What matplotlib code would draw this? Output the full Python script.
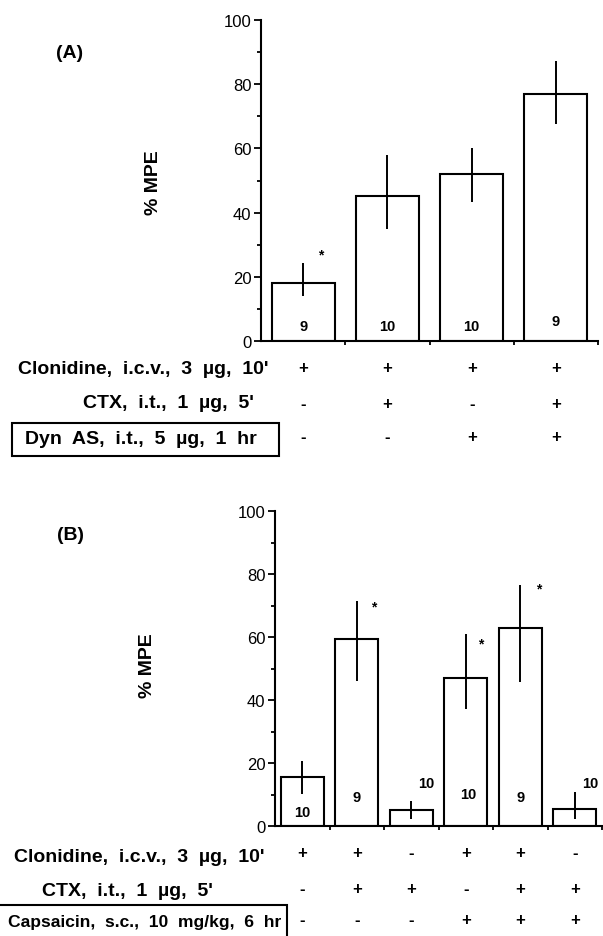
import matplotlib
matplotlib.use("Agg")
import matplotlib.pyplot as plt
from matplotlib.patches import Rectangle
from matplotlib.transforms import blended_transform_factory
from matplotlib.ticker import MultipleLocator

plt.rcParams['font.family'] = ['Liberation Sans', 'DejaVu Sans']

# ---------------- data ----------------
a_means = [18.0, 45.2, 52.1, 76.8]
a_err_low = [4.0, 10.2, 8.8, 9.3]
a_err_up = [6.2, 12.6, 8.1, 10.3]
a_n = ['9', '10', '10', '9']
a_n_y = [4.7, 4.7, 4.7, 6.2]
a_star_bars = [0]
a_star_y = [27]
a_rows = ["Clonidine,  i.c.v.,  3  µg,  10'", "CTX,  i.t.,  1  µg,  5'", "Dyn  AS,  i.t.,  5  µg,  1  hr"]
a_signs = [['+', '+', '+', '+'],
           ['-', '+', '-', '+'],
           ['-', '-', '+', '+']]

b_means = [15.6, 59.4, 5.0, 47.0, 62.8, 5.3]
b_err_low = [5.5, 13.3, 2.7, 9.9, 17.0, 3.0]
b_err_up = [4.9, 12.0, 3.0, 14.0, 13.8, 5.5]
b_n = ['10', '9', '10', '10', '9', '10']
b_n_y = [4.6, 9.2, 13.6, 10.0, 9.2, 13.6]
b_n_dx = [0, 0, 0.28, 0.05, 0, 0.28]
b_star_bars = [1, 3, 4]
b_star_y = [69.7, 58, 75.5]
b_rows = ["Clonidine,  i.c.v.,  3  µg,  10'", "CTX,  i.t.,  1  µg,  5'", "Capsaicin,  s.c.,  10  mg/kg,  6  hr"]
b_signs = [['+', '+', '-', '+', '+', '-'],
           ['-', '+', '+', '-', '+', '+'],
           ['-', '-', '-', '+', '+', '+']]

yticks = [0, 20, 40, 60, 80, 100]

# ---------------- layout ----------------
W, H = 603, 937
fig = plt.figure(figsize=(W / 100, H / 100), dpi=100)


def fx(p):
    return p / W


def fy(p):
    return 1 - p / H


def make_axes(left, right, top, bottom):
    return fig.add_axes([fx(left), fy(bottom), fx(right) - fx(left), fy(top) - fy(bottom)])


LW = 1.5


def panel(ax, means, lo, up, width, nlab, ny, ndx, star_bars, star_y, star_dx):
    x = list(range(len(means)))
    ax.bar(x, means, width=width, color='white', edgecolor='black', linewidth=LW, zorder=2)
    ax.errorbar(x, means, yerr=[lo, up], fmt='none', ecolor='black', elinewidth=1.4,
                capsize=0, zorder=3)
    for i, (t, yv) in enumerate(zip(nlab, ny)):
        ax.text(i + ndx[i], yv, t, ha='center', va='center', fontsize=10.5,
                fontweight='bold', zorder=4, clip_on=False)
    for b, yv, dx in zip(star_bars, star_y, star_dx):
        ax.text(b + dx, yv, '*', ha='center', va='center', fontsize=10,
                fontweight='bold', zorder=4)
    ax.set_xlim(-0.5, len(means) - 0.5)
    ax.set_ylim(0, 100)
    ax.set_yticks(yticks)
    ax.yaxis.set_minor_locator(MultipleLocator(10))
    ax.set_xticks([i + 0.5 for i in range(len(means))])
    ax.set_xticklabels([])
    for s in ['top', 'right']:
        ax.spines[s].set_visible(False)
    for s in ['left', 'bottom']:
        ax.spines[s].set_linewidth(LW)
    ax.tick_params(axis='y', which='major', direction='out', length=5, width=1.3,
                   labelsize=12, pad=2)
    ax.tick_params(axis='y', which='minor', direction='out', length=3, width=1.3)
    ax.tick_params(axis='x', which='major', direction='out', length=3, width=1.3)
    ax.set_facecolor('none')


def sign_rows(ax, signs, rows_y):
    tr = blended_transform_factory(ax.transData, fig.transFigure)
    for row, yp in zip(signs, rows_y):
        for i, s in enumerate(row):
            ax.text(i, fy(yp), s, transform=tr, ha='center', va='center',
                    fontsize=12, fontweight='bold', clip_on=False)


def row_labels(labels, xs_right, ys, sizes):
    for t, xr, yp, fs in zip(labels, xs_right, ys, sizes):
        fig.text(fx(xr), fy(yp), t, ha='right', va='center', fontsize=fs,
                 fontweight='bold')


# ---------- Panel A ----------
axA = make_axes(261, 598, 21, 342)
panel(axA, a_means, a_err_low, a_err_up, 0.75, a_n, a_n_y, [0] * 4,
      a_star_bars, a_star_y, [0.21])
fig.text(fx(70), fy(53), '(A)', ha='center', va='center', fontsize=14, fontweight='bold')
fig.text(fx(153), fy(183), '% MPE', ha='center', va='center', rotation=90,
         fontsize=14, fontweight='bold')
sign_rows(axA, a_signs, [369, 404, 438])
row_labels(a_rows, [268, 254, 257], [370, 403, 440], [14, 14, 14])
fig.add_artist(Rectangle((fx(12), fy(457)), fx(279) - fx(12), fy(424) - fy(457),
                         transform=fig.transFigure, fill=False, edgecolor='black',
                         linewidth=LW))

# ---------- Panel B ----------
axB = make_axes(275, 602, 512, 827)
panel(axB, b_means, b_err_low, b_err_up, 0.78, b_n, b_n_y, b_n_dx,
      b_star_bars, b_star_y, [0.32, 0.28, 0.34])
fig.text(fx(70), fy(535), '(B)', ha='center', va='center', fontsize=14, fontweight='bold')
fig.text(fx(148), fy(666), '% MPE', ha='center', va='center', rotation=90,
         fontsize=14, fontweight='bold')
sign_rows(axB, b_signs, [854, 890, 921])
row_labels(b_rows, [265, 213, 281], [858, 892, 923], [14, 14, 12.6])
fig.add_artist(Rectangle((fx(-5), fy(950)), fx(287) - fx(-5), fy(906) - fy(950),
                         transform=fig.transFigure, fill=False, edgecolor='black',
                         linewidth=LW))

fig.savefig('out.png', dpi=100)
